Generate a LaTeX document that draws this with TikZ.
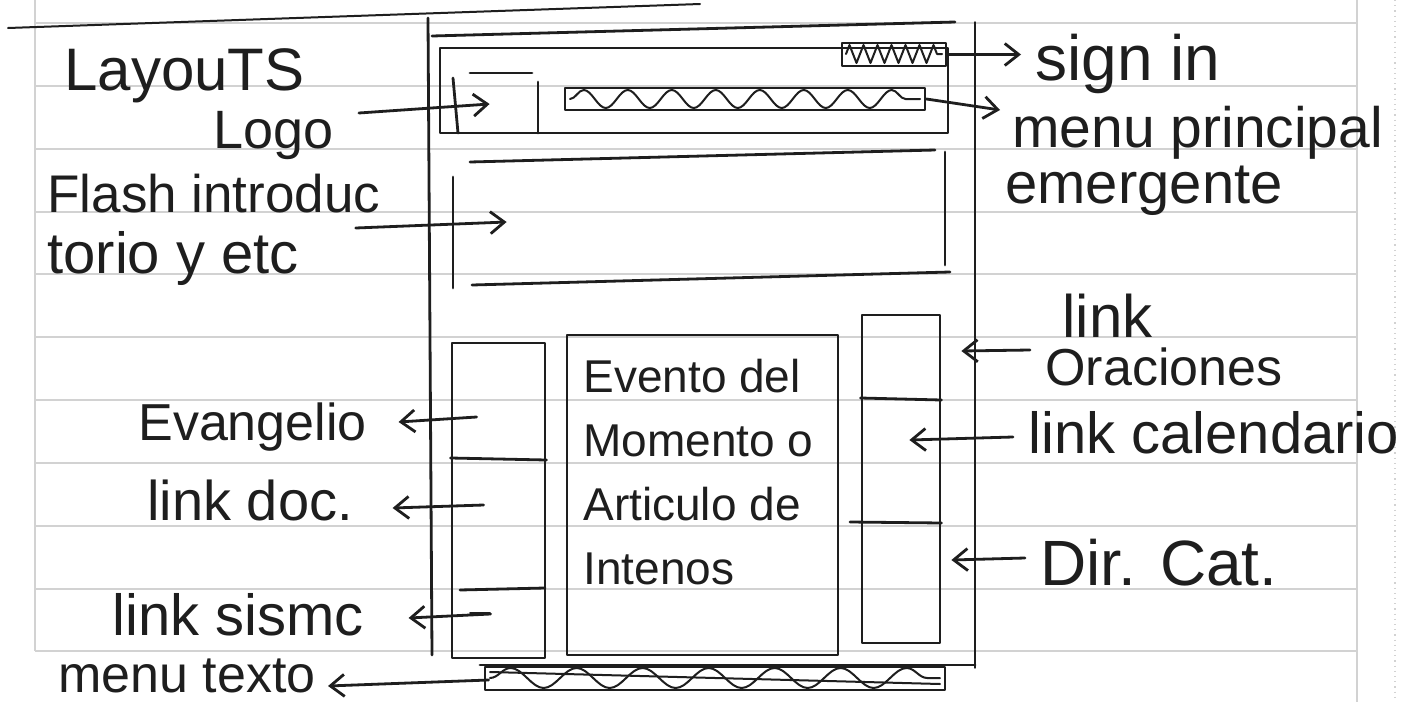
\documentclass[tikz,border=0pt]{standalone}
\usepackage{fontspec}
\setmainfont{Liberation Sans}
\usetikzlibrary{arrows.meta,decorations.pathmorphing,fit,calc}
\definecolor{inkc}{HTML}{1E1E1E}
\definecolor{rulec}{HTML}{D2D2D2}
\newcommand\hsz[1]{\fontsize{#1}{#1}\selectfont}
\tikzset{
  ink/.style={draw=inkc, line width=1.4pt, line cap=round, line join=round},
  rule/.style={draw=rulec, line width=0.6pt},
  lbl/.style={inner sep=0pt, anchor=base west, text=inkc},
  arr/.style={ink, -{Straight Barb[length=7pt,width=11pt]}},
  box/.style={ink, inner sep=0pt},
  ghost/.style={inner sep=0pt},
  zig/.style={ink, line width=1pt, decorate},
}
\begin{document}
\begin{tikzpicture}[x=0.5pt,y=-0.5pt]
\useasboundingbox (0,0) rectangle (1421,702);
\fill[white] (0,0) rectangle (1421,702);
% ruled paper
\foreach \yy in {23,86,149,212,274,337,400,463,526,589,651}
  \draw[rule] (35,\yy) -- (1357,\yy);
\draw[rule] (35,0) -- (35,651);
\draw[rule] (1357,0) -- (1357,702);
\draw[rule, dotted] (1395,0) -- (1395,702);
% top edge line
\draw[ink, line width=1pt] (8,28) -- (700,4);
% page frame
\draw[ink] (428,18) -- (432,655);
\draw[ink, line width=0.7pt] (975,22) -- (975,668);
\draw[ink] (432,36) -- (955,22);
% header
\node[box, fit={(440,48) (948,133)}] (hdr) {};
\node[box, fit={(842,43) (946,66)}] (signbox) {};
\draw[zig, decoration={zigzag, segment length=7pt, amplitude=4.5pt}] (846,54) -- (942,54);
\node[box, fit={(565,88) (925,110)}] (menubox) {};
\draw[zig, decoration={snake, segment length=22pt, amplitude=4.5pt}] (570,99) -- (920,99);
% logo box
\node[ghost, fit={(455,73) (538,133)}] (logobox) {};
\draw[ink] (470,73) -- (532,73);
\draw[ink] (453,78) -- (458,133);
\draw[ink] (538,82) -- (538,133);
% flash box
\node[ghost, fit={(455,152) (945,283)}] (flash) {};
\draw[ink] (470,162) -- (935,150);
\draw[ink] (453,177) -- (453,288);
\draw[ink] (945,152) -- (945,265);
\draw[ink] (472,285) -- (950,272);
% columns
\node[box, fit={(452,343) (545,658)}] (lcol) {};
\draw[ink] (lcol.west |- 0,458) -- (lcol.east |- 0,460);
\draw[ink] (460,590) -- (545,588);
\draw[ink, line width=0.8pt] (470,613) -- (490,613);
\node[box, fit={(567,335) (838,655)}] (ccol) {};
\node[box, fit={(862,315) (940,643)}] (rcol) {};
\draw[ink] (rcol.west |- 0,398) -- (rcol.east |- 0,400);
\draw[ink] (850,522) -- (rcol.east |- 0,523);
% footer
\draw[ink] (480,665) -- (975,665);
\node[box, fit={(485,667) (945,690)}] (foot) {};
\draw[zig, decoration={snake, segment length=33pt, amplitude=5pt}] (490,678) -- (940,678);
\draw[ink, line width=1pt] (490,672) -- (940,684);
% center text
\node[lbl, anchor=north west, align=left, font=\fontsize{23}{32}\selectfont] (ctext) at (583,359)
  {Evento del\\Momento o\\Articulo de\\Intenos};
% labels
\node[lbl, font=\hsz{30}] (title) at (64,90) {LayouTS};
\node[lbl, font=\hsz{27}] (logolbl) at (213,148) {Logo};
\node[lbl, font=\hsz{26.5}] (flashlbl) at (47,212) {Flash introduc};
\node[lbl, font=\hsz{29}] (flashlbl2) at (47,273) {torio y etc};
\node[lbl, font=\hsz{32}] (signlbl) at (1035,80) {sign in};
\node[lbl, font=\hsz{28.5}] (menulbl) at (1012,147) {menu principal};
\node[lbl, font=\hsz{29}] (emerlbl) at (1005,203) {emergente};
\node[lbl, font=\hsz{30}] (linklbl) at (1062,337) {link};
\node[lbl, font=\hsz{26}] (oralbl) at (1045,385) {Oraciones};
\node[lbl, font=\hsz{29}] (callbl) at (1028,453) {link calendario};
\node[lbl, font=\hsz{32}] (dirlbl) at (1040,585) {Dir. Cat.};
\node[lbl, font=\hsz{26}] (evlbl) at (138,440) {Evangelio};
\node[lbl, font=\hsz{28}] (doclbl) at (147,520) {link doc.};
\node[lbl, font=\hsz{29}] (sislbl) at (112,635) {link sismc};
\node[lbl, font=\hsz{26}] (txtlbl) at (58,692) {menu texto};
% arrows
\draw[arr] (signbox.east) -- ($(signbox.east -| signlbl.west)+(-14,0)$);
\draw[arr] (menubox.east) -- ($(menulbl.west |- 0,110)+(-12,0)$);
\draw[arr] ($(logolbl.east |- 0,113)+(25,0)$) -- ($(logobox.west |- 0,104)+(35,0)$);
\draw[arr] ($(flashlbl.east |- 0,228)+(-25,0)$) -- ($(flash.west |- 0,222)+(52,0)$);
\draw[arr] ($(lcol.west |- 0,417)+(26,0)$) -- ($(lcol.west |- 0,422)+(-52,0)$);
\draw[arr] ($(lcol.west |- 0,505)+(33,0)$) -- ($(lcol.west |- 0,508)+(-58,0)$);
\draw[arr] ($(lcol.west |- 0,614)+(40,0)$) -- ($(lcol.west |- 0,618)+(-42,0)$);
\draw[arr] ($(foot.west |- 0,680)+(5,0)$) -- ($(txtlbl.east |- 0,686)+(12,0)$);
\draw[arr] ($(oralbl.west |- 0,350)+(-15,0)$) -- ($(rcol.east |- 0,351)+(20,0)$);
\draw[arr] ($(callbl.west |- 0,437)+(-15,0)$) -- ($(rcol.east |- 0,440)+(-32,0)$);
\draw[arr] ($(dirlbl.west |- 0,558)+(-15,0)$) -- ($(rcol.east |- 0,560)+(10,0)$);
\end{tikzpicture}
\end{document}
